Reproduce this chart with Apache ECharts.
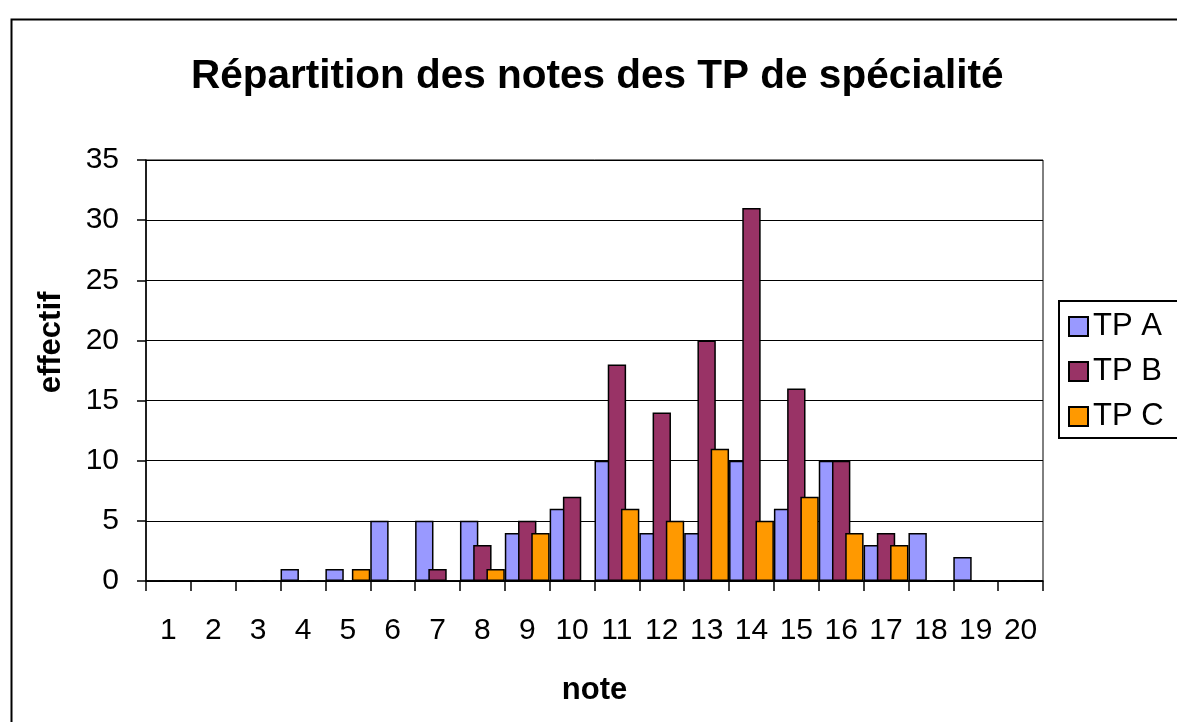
<!DOCTYPE html>
<html>
<head>
<meta charset="utf-8">
<script src="https://cdn.jsdelivr.net/npm/echarts@6/dist/echarts.min.js"></script>
<style>
html,body{margin:0;padding:0;background:#fff;}
#chart{width:1177px;height:722px;}
</style>
</head>
<body>
<div id="chart"></div>
<script>
const categories = ['1','2','3','4','5','6','7','8','9','10','11','12','13','14','15','16','17','18','19','20'];
const tpA = [0,0,0,1,1,5,5,5,4,6,10,4,4,10,6,10,3,4,2,0];
const tpB = [0,0,0,0,0,0,1,3,5,7,18,14,20,31,16,10,4,0,0,0];
const tpC = [0,0,0,0,1,0,0,1,4,0,6,5,11,5,7,4,3,0,0,0];
const seriesNames = ['TP A','TP B','TP C'];
const seriesColors = ['#9999FF','#993366','#FF9900'];
const yTicks = {min:0, max:35, interval:5};

const FONT = '"Liberation Sans", Arial, sans-serif';
const chart = echarts.init(document.getElementById('chart'), null, {renderer:'canvas'});
const values = [tpA, tpB, tpC];
const option = {
  backgroundColor:'#fff',
  animation:false,
  title:{
    text:'Répartition des notes des TP de spécialité',
    left:186, top:51,
    textStyle:{fontFamily:FONT, fontSize:40.5, fontWeight:'bold', color:'#000'}
  },
  graphic:[{
    type:'rect', left:9, top:17, z:-1, silent:true,
    shape:{width:1300, height:800},
    style:{fill:'none', stroke:'#000', lineWidth:2}
  }],
  legend:{
    orient:'vertical', left:1059, top:301,
    padding:[10,40,6,9],
    itemWidth:19, itemHeight:19, itemGap:14, itemTextGap:11,
    icon:'rect',
    borderColor:'#000', borderWidth:2,
    textStyle:{fontFamily:FONT, fontSize:31, color:'#000', lineHeight:31},
    data:seriesNames
  },
  grid:{left:146, right:134, top:160, bottom:141, show:true, borderColor:'#000', borderWidth:1, backgroundColor:'transparent'},
  xAxis:{
    type:'category', data:categories, boundaryGap:true,
    name:'note', nameLocation:'middle', nameGap:94,
    nameTextStyle:{fontFamily:FONT, fontSize:31, fontWeight:'bold', color:'#000'},
    axisLine:{lineStyle:{color:'#000', width:1.5}},
    axisTick:{show:true, length:10, lineStyle:{color:'#000', width:1.5}, alignWithLabel:false},
    axisLabel:{fontFamily:FONT, fontSize:30, color:'#000', margin:35, interval:0},
    splitLine:{show:false}
  },
  yAxis:{
    type:'value', min:yTicks.min, max:yTicks.max, interval:yTicks.interval,
    name:'effectif', nameLocation:'middle', nameGap:79, nameRotate:90,
    nameTextStyle:{fontFamily:FONT, fontSize:31, fontWeight:'bold', color:'#000', padding:[0,0,0,56]},
    axisLine:{show:true, lineStyle:{color:'#000', width:1.5}},
    axisTick:{show:true, length:9, lineStyle:{color:'#000', width:1.5}},
    axisLabel:{fontFamily:FONT, fontSize:30, color:'#000', margin:27},
    splitLine:{show:true, lineStyle:{color:'#000', width:1.2}}
  },
  series: seriesNames.map((n,i)=>({
    name:n, type:'bar', data:values[i],
    barGap:'-28%', barCategoryGap:'0%',
    itemStyle:{color:seriesColors[i], borderColor:'#000', borderWidth:1.5},
    emphasis:{disabled:true}
  }))
};
chart.setOption(option);
</script>
</body>
</html>
